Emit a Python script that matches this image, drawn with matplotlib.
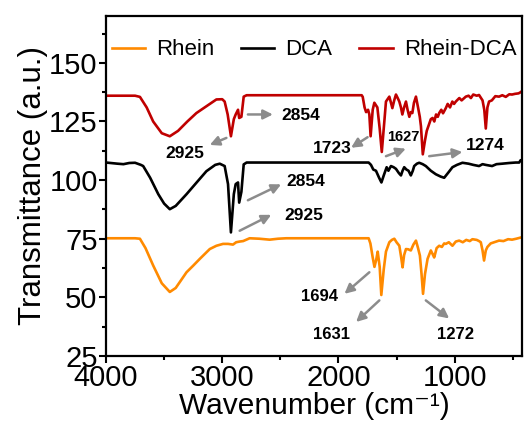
import matplotlib
matplotlib.use("Agg")
import matplotlib.pyplot as plt
from matplotlib.ticker import MultipleLocator

plt.rcParams['font.family'] = ['Liberation Sans', 'DejaVu Sans']

# Espectros FTIR (numero de onda cm-1, transmitancia)
wn_rhein = [4000, 3750, 3708, 3660, 3594, 3520, 3451, 3400, 3307, 3250, 3193, 3107, 3050, 2993,
            2950, 2907, 2880, 2850, 2820, 2764, 2680, 2592, 2520, 2449, 1740, 1725, 1705, 1690,
            1675, 1662, 1645, 1631, 1610, 1591, 1562, 1540, 1519, 1500, 1476, 1460, 1448, 1435,
            1419, 1400, 1377, 1355, 1333, 1315, 1299, 1285, 1272, 1255, 1233, 1205, 1190, 1176,
            1155, 1133, 1110, 1090, 1076, 1050, 1019, 990, 961, 930, 900, 870, 847, 810, 790,
            775, 760, 747, 732, 718, 690, 660, 618, 580, 540, 506, 470, 432, 420]
t_rhein = [75.2, 75.2, 75, 71, 63.6, 56, 52.3, 54, 60.7, 63.5, 66.4, 70.6, 72, 72.8,
           72.8, 72.5, 73.5, 73.8, 74, 75.2, 75, 74.6, 75, 75.2, 75.2, 73, 67, 63,
           66, 69.5, 63, 51, 62, 69.5, 73.5, 74.5, 75, 73.5, 72, 67, 62.8, 68,
           70.6, 70.5, 70, 72.5, 74.2, 71, 67.8, 60, 51.5, 60, 66.4, 70, 68.5, 67,
           71, 72, 71.5, 73, 72.8, 73.5, 72, 73.8, 74.2, 73.5, 74.5, 74, 74.8, 74.5, 74,
           73.5, 70, 65.7, 70, 71.5, 73, 73.5, 74.2, 74, 74.8, 74.6, 75, 75.5, 75.7]

wn_dca = [4000, 3900, 3850, 3800, 3750, 3700, 3680, 3620, 3550, 3500, 3451, 3400, 3307, 3220,
          3136, 3060, 3021, 2979, 2950, 2925, 2900, 2884, 2864, 2854, 2835, 2815, 2790, 1740,
          1720, 1700, 1677, 1650, 1630, 1610, 1585, 1570, 1548, 1525, 1505, 1480, 1462, 1448,
          1434, 1415, 1397, 1377, 1360, 1348, 1325, 1305, 1275, 1248, 1205, 1162, 1120, 1090,
          1050, 1019, 980, 933, 880, 840, 790, 760, 733, 700, 678, 640, 592, 530, 475, 445,
          432, 420]
t_dca = [107.5, 107, 106.8, 107.3, 107.4, 106.5, 106, 101, 94, 90, 87.6, 89, 94, 99,
         103.8, 106.5, 107, 106, 98.3, 77.7, 94, 98.3, 99, 90.4, 95, 106.7, 107.5, 107.5,
         106.5, 104.5, 104, 101, 99, 102, 105.5, 104, 106, 105.5, 104.8, 103, 102, 104,
         105.5, 104.5, 104, 102, 104, 106, 107, 107.4, 106.8, 106, 104, 102.5, 101.5, 101,
         103.5, 105.5, 106.5, 107.4, 107, 106.5, 106, 106.8, 106.5, 106.2, 106, 106.8, 107, 107.3, 107.5, 107.5,
         108.5, 108]

wn_rd = [4000, 3750, 3708, 3650, 3594, 3520, 3451, 3380, 3300, 3222, 3136, 3050, 3000, 2979,
         2953, 2925, 2900, 2884, 2864, 2854, 2835, 2815, 2790, 1800, 1791, 1775, 1762, 1745,
         1734, 1723, 1705, 1691, 1678, 1665, 1645, 1627, 1605, 1591, 1562, 1548, 1536, 1520,
         1505, 1490, 1476, 1462, 1450, 1435, 1419, 1405, 1390, 1377, 1364, 1350, 1333, 1315,
         1300, 1290, 1274, 1255, 1240, 1219, 1205, 1190, 1175, 1160, 1145, 1133, 1115, 1100,
         1076, 1060, 1040, 1020, 1005, 990, 960, 940, 904, 880, 860, 840, 810, 790, 760, 745,
         732, 718, 704, 680, 650, 618, 590, 560, 530, 506, 480, 450, 432, 420]
t_rd = [136, 136, 135.5, 131, 125, 120, 118.7, 121, 125, 128.6, 131.5, 134.4, 134.5, 133.5,
        128, 118.7, 126, 128, 130, 126.5, 127, 135.6, 136.2, 136.2, 135.5, 131, 129, 130,
        128, 118.7, 130, 133, 132, 131, 122, 112, 125, 133.5, 135.6, 133, 130.7, 134,
        136.5, 135, 133.5, 131, 128, 131, 133.5, 130, 127, 129, 128.6, 133, 135.6, 131,
        127, 123, 111, 117, 121, 124, 126, 126.5, 125, 128, 127, 128.6, 130, 128.5,
        130.7, 132.5, 131, 133.5, 132.5, 133.5, 135, 134, 135.6, 136, 135, 136.5, 136, 136.3, 134, 130,
        122, 131, 133.5, 134, 135.8, 135.6, 136.2, 135.5, 136.6, 136.5, 136.8, 137, 137.5, 138]

nombres = ["Rhein", "DCA", "Rhein-DCA"]
colores = ["#FF8A00", "black", "#C00000"]

# Etiquetas de picos: (texto, x texto, y texto, cola flecha, punta flecha, tamaño)
picos = [
    ("2925", 3322, 111.5, (2964, 118), (3107, 115), 12.5),
    ("2854", 2321, 127.6, (2779, 128), (2564, 128), 12.5),
    ("1723", 2054, 113.4, (1749, 118.3), (1891, 113.8), 12.5),
    ("1627", 1442, 118.3, (1591, 110.2), (1420, 113.4), 10.5),
    ("1274", 733, 114.9, (1219, 110.2), (933, 112), 12.5),
    ("2854", 2278, 99.3, (2779, 91.4), (2493, 98.2), 12.5),
    ("2925", 2301, 85, (2850, 78.4), (2578, 85.2), 12.5),
    ("1694", 2163, 50.2, (1734, 60.7), (1948, 51.5), 12),
    ("1631", 2063, 34.3, (1648, 48.7), (1848, 39.5), 12),
    ("1272", 990, 34.3, (1248, 48.7), (1047, 41), 12),
]

fig = plt.figure(figsize=(5.26, 4.32), dpi=100)
ax = fig.add_axes([0.2015, 0.176, 0.791, 0.787])

for wn, t, nom, col in zip([wn_rhein, wn_dca, wn_rd], [t_rhein, t_dca, t_rd], nombres, colores):
    ax.plot(wn, t, color=col, lw=1.9, label=nom)

for txt, xt, yt, cola, punta, fs in picos:
    ax.annotate("", xy=punta, xytext=cola,
                arrowprops=dict(arrowstyle="-|>", color="#8c8c8c", lw=1.8, mutation_scale=14,
                                shrinkA=0, shrinkB=0))
    ax.text(xt, yt, txt, fontsize=fs, fontweight="bold", ha="center", va="center")

ax.set_xlim(4000, 420)
ax.set_ylim(25, 170)
ax.set_xticks([4000, 3000, 2000, 1000])
ax.set_yticks([25, 50, 75, 100, 125, 150])
ax.xaxis.set_minor_locator(MultipleLocator(500))
ax.yaxis.set_minor_locator(MultipleLocator(12.5))
ax.tick_params(which="major", direction="out", length=5, width=1.5, labelsize=21, pad=1)
ax.tick_params(which="minor", direction="out", length=3, width=1.5)
for s in ax.spines.values():
    s.set_linewidth(1.6)

ax.set_xlabel("Wavenumber (cm\u207b\u00b9)", fontsize=21.5, labelpad=0)
ax.set_ylabel("Transmittance (a.u.)", fontsize=22.5, labelpad=1)

ax.legend(loc="upper center", bbox_to_anchor=(0.5, 0.99), ncol=3, frameon=False, fontsize=16,
          handlelength=1.5, columnspacing=1.2, handletextpad=0.5)

plt.savefig("out.png", dpi=100)
